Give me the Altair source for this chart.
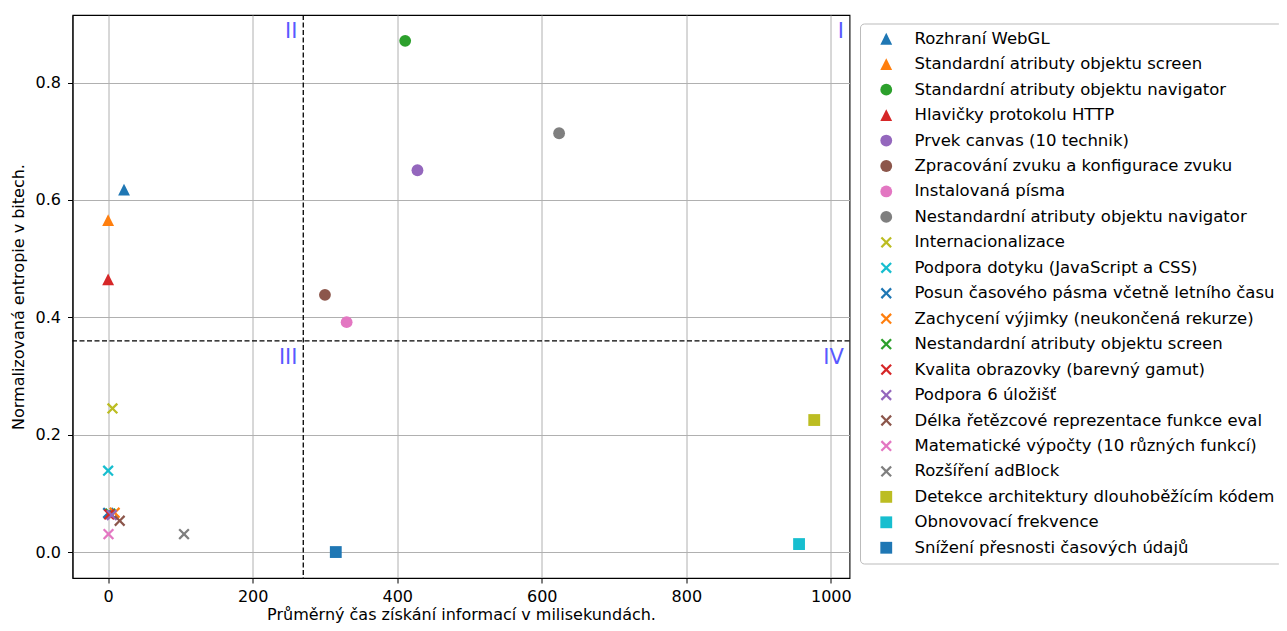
import math
import altair as alt
import pandas as pd

# ---- data ----
names = [
    "Rozhraní WebGL",
    "Standardní atributy objektu screen",
    "Standardní atributy objektu navigator",
    "Hlavičky protokolu HTTP",
    "Prvek canvas (10 technik)",
    "Zpracování zvuku a konfigurace zvuku",
    "Instalovaná písma",
    "Nestandardní atributy objektu navigator",
    "Internacionalizace",
    "Podpora dotyku (JavaScript a CSS)",
    "Posun časového pásma včetně letního času",
    "Zachycení výjimky (neukončená rekurze)",
    "Nestandardní atributy objektu screen",
    "Kvalita obrazovky (barevný gamut)",
    "Podpora 6 úložišť",
    "Délka řetězcové reprezentace funkce eval",
    "Matematické výpočty (10 různých funkcí)",
    "Rozšíření adBlock",
    "Detekce architektury dlouhoběžícím kódem",
    "Obnovovací frekvence",
    "Snížení přesnosti časových údajů",
]
time_ms = [22, 0, 411, 0, 428, 300, 330, 624, 6, 0, 0, 9, 3, 1.5, 5, 16, 0.5, 105, 977, 956, 315]
entropy = [0.6175, 0.5656, 0.871, 0.4649, 0.6507, 0.4385, 0.392, 0.7137,
           0.245, 0.139, 0.067, 0.0674, 0.066, 0.0647, 0.0635, 0.0538, 0.0311, 0.0311,
           0.2253, 0.0141, 0.0005]
marker_kind = ["triangle", "triangle", "circle", "triangle", "circle", "circle", "circle", "circle",
               "x", "x", "x", "x", "x", "x", "x", "x", "x", "x",
               "square", "square", "square"]

x_ticks = [0, 200, 400, 600, 800, 1000]
y_ticks = [0.0, 0.2, 0.4, 0.6, 0.8]
x_domain = [-49.3, 1025.8]
y_domain = [-0.0437, 0.915]

vline_x = [270]
hline_y = [0.36]

quad_labels = ["I", "II", "III", "IV"]
quad_x = [1018, 262, 262, 1018]
quad_y = [0.8766, 0.8766, 0.32, 0.32]

# ---- styles ----
tab10 = ["#1f77b4", "#ff7f0e", "#2ca02c", "#d62728", "#9467bd",
         "#8c564b", "#e377c2", "#7f7f7f", "#bcbd22", "#17becf"]
colors = [tab10[i % 10] for i in range(len(names))]


def x_path(e=0.82, w=0.19):
    d = w / math.sqrt(2)
    c = 2 * d
    pts = [(e + d, e - d), (e - d, e + d), (0, c), (-e + d, e + d), (-e - d, e - d), (-c, 0),
           (-e - d, -e + d), (-e + d, -e - d), (0, -c), (e - d, -e - d), (e + d, -e + d), (c, 0)]
    return "M" + "L".join(f"{px:.4f},{py:.4f}" for px, py in pts) + "Z"


shape_map = {
    "triangle": "M0,-1L-1,1L1,1Z",
    "circle": "circle",
    "square": "square",
    "x": x_path(),
}
shapes = [shape_map[k] for k in marker_kind]

FONT = "DejaVu Sans"

df = pd.DataFrame({"name": names, "x": time_ms, "y": entropy})

X = alt.X(
    "x:Q",
    scale=alt.Scale(domain=x_domain, nice=False, zero=False),
    axis=alt.Axis(
        title="Průměrný čas získání informací v milisekundách.",
        values=x_ticks, format="d", tickSize=5, labelPadding=5, titlePadding=2,
        grid=True, gridColor="#b0b0b0", gridWidth=1,
        domainColor="black", tickColor="black", labelColor="black", titleColor="black",
        labelFontSize=16, titleFontSize=16, titleFontWeight="normal",
        labelFont=FONT, titleFont=FONT,
    ),
)
Y = alt.Y(
    "y:Q",
    scale=alt.Scale(domain=y_domain, nice=False, zero=False),
    axis=alt.Axis(
        title="Normalizovaná entropie v bitech.",
        values=y_ticks, format=".1f", tickSize=5, labelPadding=7, titlePadding=9,
        grid=True, gridColor="#b0b0b0", gridWidth=1,
        domainColor="black", tickColor="black", labelColor="black", titleColor="black",
        labelFontSize=16, titleFontSize=16, titleFontWeight="normal",
        labelFont=FONT, titleFont=FONT,
    ),
)

legend = alt.Legend(
    title=None, orient="none", legendX=787.5, legendY=8.5, direction="vertical",
    padding=7, symbolOffset=11, labelOffset=20, rowPadding=8.45,
    labelFontSize=16.5, labelFont=FONT, labelColor="black", labelLimit=800,
    symbolSize=140, symbolStrokeWidth=0, symbolOpacity=1,
    strokeColor="#bbbbbb", fillColor="white", cornerRadius=4,
)

points = alt.Chart(df).mark_point(filled=True, size=140, opacity=1, strokeWidth=0).encode(
    x=X,
    y=Y,
    color=alt.Color("name:N", scale=alt.Scale(domain=names, range=colors), legend=legend),
    shape=alt.Shape("name:N", scale=alt.Scale(domain=names, range=shapes), legend=legend),
    order=alt.Order("idx:Q"),
).transform_window(idx="row_number()")

vrule = alt.Chart(pd.DataFrame({"x": vline_x})).mark_rule(
    color="black", strokeDash=[5, 2.5], strokeWidth=1.3
).encode(x=X)

hrule = alt.Chart(pd.DataFrame({"y": hline_y})).mark_rule(
    color="black", strokeDash=[5, 2.5], strokeWidth=1.3
).encode(y=Y)

quad = alt.Chart(pd.DataFrame({"label": quad_labels, "x": quad_x, "y": quad_y})).mark_text(
    align="right", baseline="alphabetic", fontSize=21, font=FONT, color="#5959ff"
).encode(x=X, y=Y, text="label:N")

chart = alt.layer(points, vrule, hrule, quad).properties(
    width=777, height=563,
    autosize=alt.AutoSizeParams(type="none"),
    padding={"left": 64.5, "top": 7, "right": 429.5, "bottom": 45},
    background="white",
).configure_view(stroke="black", strokeWidth=1.1)

chart.save("out.html", embed_options={"renderer": "svg", "actions": False})
